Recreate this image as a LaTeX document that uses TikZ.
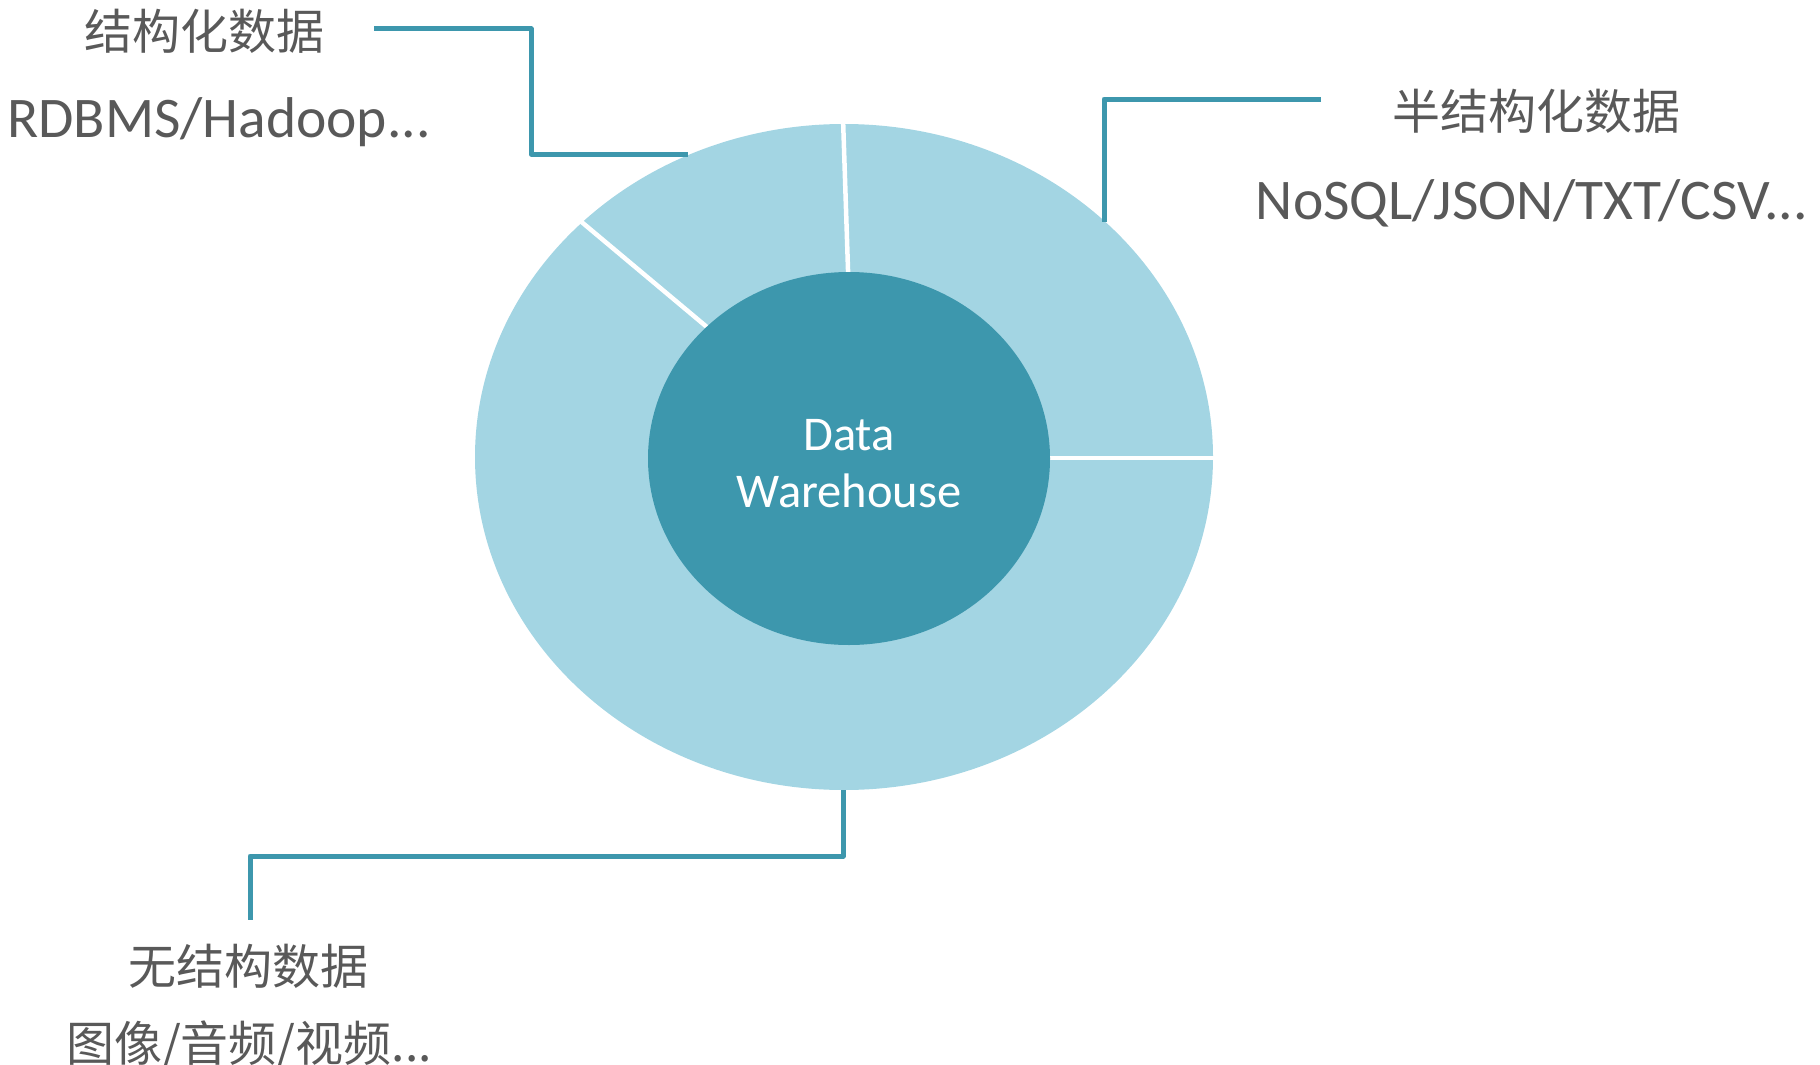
\documentclass[tikz,border=0pt]{standalone}
\usepackage{fontspec}
\usetikzlibrary{shapes.geometric}
\setmainfont{Carlito}
\newfontfamily\cjk{Noto Sans CJK SC}
\definecolor{ringc}{HTML}{A3D5E3}
\definecolor{corec}{HTML}{3D97AD}
\definecolor{textc}{HTML}{595959}
\tikzset{
  ring/.style={fill=ringc,draw=none},
  core/.style={fill=corec,draw=none},
  divider/.style={draw=white,line width=4.5pt},
  callout/.style={draw=corec,line width=5pt,line join=round},
  cjklabel/.style={anchor=base,inner sep=0pt,text=textc,font=\cjk\fontsize{48}{52}\selectfont},
  latlabel/.style={anchor=base,inner sep=0pt,text=textc,font=\fontsize{57.5}{62}\selectfont},
  corelabel/.style={anchor=base,inner sep=0pt,text=white,font=\fontsize{48.5}{52}\selectfont}
}
\begin{document}
\begin{tikzpicture}[x=1pt,y=-1pt]
\useasboundingbox (0,0) rectangle (1820,1065);
% doughnut
\node[ring,ellipse,minimum width=738pt,minimum height=666pt,inner sep=0pt] (outer) at (844,457) {};
\coordinate (d1a) at (843,118);
\coordinate (d1b) at (849,300);
\coordinate (d2a) at (578,219);
\coordinate (d2b) at (720,338);
\coordinate (d3a) at (1030,458);
\coordinate (d3b) at (1220,458);
\draw[divider] (d1a) -- (d1b);
\draw[divider] (d2a) -- (d2b);
\draw[divider] (d3a) -- (d3b);
\fill[white] (1213.5,380) rectangle (1230,540);
\node[core,ellipse,minimum width=402pt,minimum height=373pt,inner sep=0pt] (inner) at (849,458.5) {};
\node[corelabel] (dw1) at (849,450) {Data};
\node[corelabel] (dw2) at (849,507) {Warehouse};
% callouts
\coordinate (s0) at (374,29);
\coordinate (s1) at (688,154);
\draw[callout] (s0) -- (531,29) -- (531,154) -- (s1);
\coordinate (h0) at (1321,99);
\coordinate (h1) at (1104,222);
\draw[callout] (h0) -- (1104,99) -- (h1);
\coordinate (u0) at (843,790);
\coordinate (u1) at (250,920);
\draw[callout] (u0) -- (843,856) -- (250,856) -- (u1);
% labels
\node[cjklabel] (t1) at (204,49) {结构化数据};
\node[latlabel] (t2) at (219,137) {RDBMS/Hadoop...};
\node[cjklabel] (t3) at (1536,129) {半结构化数据};
\node[latlabel] (t4) at (1532,219) {NoSQL/JSON/TXT/CSV...};
\node[cjklabel] (t5) at (248,984) {无结构数据};
\node[cjklabel] (t6) at (249,1061) {图像/音频/视频...};
\end{tikzpicture}
\end{document}
